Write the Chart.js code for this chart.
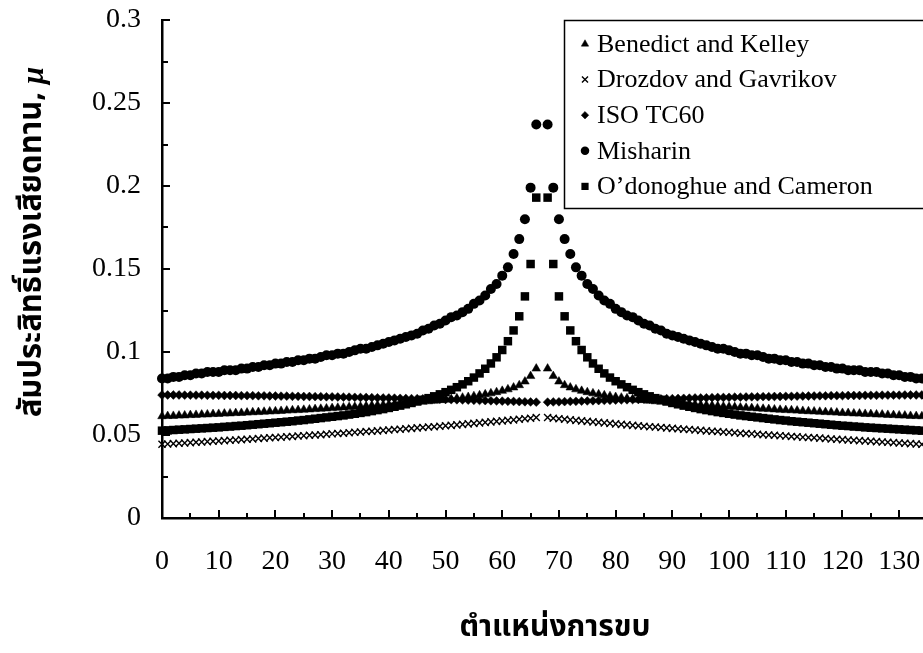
<!DOCTYPE html>
<html>
<head>
<meta charset="utf-8">
<script src="https://cdn.jsdelivr.net/npm/chart.js@4.4.0/dist/chart.umd.min.js"></script>
<style>
  html, body { margin: 0; padding: 0; background: #fff; }
  #wrap { width: 923px; height: 653px; position: relative; }
</style>
</head>
<body>
<div id="wrap"><canvas id="c" width="923" height="653"></canvas></div>
<script>
// Mesh positions along the line of action (67 = pitch point, no value there)
const positions = [
  0,1,2,3,4,5,6,7,8,9,10,11,12,13,14,15,16,17,18,19,
  20,21,22,23,24,25,26,27,28,29,30,31,32,33,34,35,36,37,38,39,
  40,41,42,43,44,45,46,47,48,49,50,51,52,53,54,55,56,57,58,59,
  60,61,62,63,64,65,66,67,68,69,70,71,72,73,74,75,76,77,78,79,
  80,81,82,83,84,85,86,87,88,89,90,91,92,93,94,95,96,97,98,99,
  100,101,102,103,104,105,106,107,108,109,110,111,112,113,114,115,116,117,118,119,
  120,121,122,123,124,125,126,127,128,129,130,131,132,133,134
];

const benedictKelley = [
  0.0613,0.0614,0.0615,0.0617,0.0618,0.0620,0.0621,0.0623,0.0624,0.0626,
  0.0627,0.0629,0.0630,0.0632,0.0633,0.0635,0.0637,0.0638,0.0640,0.0642,
  0.0643,0.0645,0.0647,0.0649,0.0650,0.0652,0.0654,0.0656,0.0658,0.0660,
  0.0662,0.0664,0.0666,0.0668,0.0670,0.0672,0.0674,0.0677,0.0679,0.0681,
  0.0684,0.0686,0.0689,0.0691,0.0694,0.0697,0.0700,0.0703,0.0706,0.0710,
  0.0713,0.0717,0.0721,0.0725,0.0729,0.0734,0.0739,0.0745,0.0751,0.0758,
  0.0766,0.0775,0.0786,0.0800,0.0822,0.0855,0.0900,
  null,
  0.0900,0.0855,0.0822,0.0800,0.0786,0.0775,0.0766,
  0.0758,0.0751,0.0745,0.0739,0.0734,0.0729,0.0725,0.0721,0.0717,0.0713,
  0.0710,0.0706,0.0703,0.0700,0.0697,0.0694,0.0691,0.0689,0.0686,0.0684,
  0.0681,0.0679,0.0677,0.0674,0.0672,0.0670,0.0668,0.0666,0.0664,0.0662,
  0.0660,0.0658,0.0656,0.0654,0.0652,0.0650,0.0649,0.0647,0.0645,0.0643,
  0.0642,0.0640,0.0638,0.0637,0.0635,0.0633,0.0632,0.0630,0.0629,0.0627,
  0.0626,0.0624,0.0623,0.0621,0.0620,0.0618,0.0617,0.0615,0.0614,0.0613
];

const drozdovGavrikov = [
  0.0444,0.0446,0.0448,0.0450,0.0452,0.0454,0.0456,0.0458,0.0460,0.0462,
  0.0464,0.0466,0.0468,0.0470,0.0472,0.0474,0.0476,0.0479,0.0481,0.0483,
  0.0485,0.0487,0.0489,0.0491,0.0494,0.0496,0.0498,0.0500,0.0502,0.0505,
  0.0507,0.0509,0.0511,0.0514,0.0516,0.0518,0.0521,0.0523,0.0525,0.0528,
  0.0530,0.0533,0.0535,0.0538,0.0540,0.0543,0.0545,0.0548,0.0550,0.0553,
  0.0556,0.0558,0.0561,0.0564,0.0567,0.0570,0.0573,0.0576,0.0579,0.0582,
  0.0585,0.0588,0.0591,0.0595,0.0598,0.0601,0.0605,
  null,
  0.0605,0.0601,0.0598,0.0595,0.0591,0.0588,0.0585,
  0.0582,0.0579,0.0576,0.0573,0.0570,0.0567,0.0564,0.0561,0.0558,0.0556,
  0.0553,0.0550,0.0548,0.0545,0.0543,0.0540,0.0538,0.0535,0.0533,0.0530,
  0.0528,0.0525,0.0523,0.0521,0.0518,0.0516,0.0514,0.0511,0.0509,0.0507,
  0.0505,0.0502,0.0500,0.0498,0.0496,0.0494,0.0491,0.0489,0.0487,0.0485,
  0.0483,0.0481,0.0479,0.0476,0.0474,0.0472,0.0470,0.0468,0.0466,0.0464,
  0.0462,0.0460,0.0458,0.0456,0.0454,0.0452,0.0450,0.0448,0.0446,0.0444
];

const isoTC60 = [
  0.0741,0.0741,0.0741,0.0741,0.0740,0.0740,0.0740,0.0740,0.0739,0.0739,
  0.0739,0.0738,0.0738,0.0738,0.0737,0.0737,0.0737,0.0736,0.0736,0.0735,
  0.0735,0.0734,0.0734,0.0733,0.0733,0.0732,0.0732,0.0731,0.0731,0.0730,
  0.0730,0.0729,0.0728,0.0728,0.0727,0.0726,0.0726,0.0725,0.0724,0.0723,
  0.0723,0.0722,0.0721,0.0720,0.0719,0.0719,0.0718,0.0717,0.0716,0.0715,
  0.0714,0.0713,0.0712,0.0711,0.0710,0.0709,0.0708,0.0707,0.0706,0.0705,
  0.0704,0.0703,0.0702,0.0701,0.0700,0.0699,0.0698,
  null,
  0.0698,0.0699,0.0700,0.0701,0.0702,0.0703,0.0704,
  0.0705,0.0706,0.0707,0.0708,0.0709,0.0710,0.0711,0.0712,0.0713,0.0714,
  0.0715,0.0716,0.0717,0.0718,0.0719,0.0719,0.0720,0.0721,0.0722,0.0723,
  0.0723,0.0724,0.0725,0.0726,0.0726,0.0727,0.0728,0.0728,0.0729,0.0730,
  0.0730,0.0731,0.0731,0.0732,0.0732,0.0733,0.0733,0.0734,0.0734,0.0735,
  0.0735,0.0736,0.0736,0.0737,0.0737,0.0737,0.0738,0.0738,0.0738,0.0739,
  0.0739,0.0739,0.0740,0.0740,0.0740,0.0740,0.0741,0.0741,0.0741,0.0741
];

const misharin = [
  0.084,0.084,0.085,0.085,0.086,0.086,0.087,0.087,0.088,0.088,
  0.088,0.089,0.089,0.089,0.090,0.090,0.091,0.091,0.092,0.092,
  0.093,0.093,0.094,0.094,0.095,0.095,0.096,0.096,0.097,0.098,
  0.098,0.099,0.099,0.100,0.101,0.102,0.102,0.103,0.104,0.105,
  0.106,0.107,0.108,0.109,0.110,0.111,0.113,0.114,0.116,0.117,
  0.119,0.121,0.122,0.124,0.126,0.129,0.131,0.134,0.138,0.141,
  0.146,0.151,0.159,0.168,0.180,0.199,0.237,
  null,
  0.237,0.199,0.180,0.168,0.159,0.151,0.146,0.141,0.138,0.134,
  0.131,0.129,0.126,0.124,0.122,0.121,0.119,0.117,0.116,0.114,
  0.113,0.111,0.110,0.109,0.108,0.107,0.106,0.105,0.104,0.103,
  0.102,0.102,0.101,0.100,0.099,0.099,0.098,0.098,0.097,0.096,
  0.096,0.095,0.095,0.094,0.094,0.093,0.093,0.092,0.092,0.091,
  0.091,0.090,0.090,0.089,0.089,0.089,0.088,0.088,0.088,0.087,
  0.087,0.086,0.086,0.085,0.085,0.084,0.084
];

const odonoghueCameron = [
  0.0526,0.0528,0.0530,0.0532,0.0534,0.0536,0.0538,0.0540,0.0542,0.0544,
  0.0546,0.0549,0.0551,0.0554,0.0556,0.0559,0.0562,0.0565,0.0568,0.0571,
  0.0574,0.0577,0.0580,0.0583,0.0587,0.0590,0.0594,0.0598,0.0602,0.0606,
  0.0610,0.0614,0.0618,0.0623,0.0628,0.0633,0.0638,0.0644,0.0650,0.0656,
  0.0663,0.0670,0.0677,0.0685,0.0693,0.0702,0.0712,0.0722,0.0733,0.0745,
  0.0758,0.0772,0.0788,0.0805,0.0824,0.0846,0.0871,0.0899,0.0931,0.0968,
  0.1012,0.1065,0.1130,0.1215,0.1335,0.1530,0.1930,
  null,
  0.1930,0.1530,0.1335,0.1215,0.1130,0.1065,0.1012,
  0.0968,0.0931,0.0899,0.0871,0.0846,0.0824,0.0805,0.0788,0.0772,0.0758,
  0.0745,0.0733,0.0722,0.0712,0.0702,0.0693,0.0685,0.0677,0.0670,0.0663,
  0.0656,0.0650,0.0644,0.0638,0.0633,0.0628,0.0623,0.0618,0.0614,0.0610,
  0.0606,0.0602,0.0598,0.0594,0.0590,0.0587,0.0583,0.0580,0.0577,0.0574,
  0.0571,0.0568,0.0565,0.0562,0.0559,0.0556,0.0554,0.0551,0.0549,0.0546,
  0.0544,0.0542,0.0540,0.0538,0.0536,0.0534,0.0532,0.0530,0.0528,0.0526
];

const seriesNames = [
  'Benedict and Kelley',
  'Drozdov and Gavrikov',
  'ISO TC60',
  'Misharin',
  'O\u2019donoghue and Cameron'
];

const xTickLabels = ['0','10','20','30','40','50','60','70','80','90','100','110','120','130'];
const yTickLabels = ['0','0.05','0.1','0.15','0.2','0.25','0.3'];

const xTitle = 'ตำแหน่งการขบ';
const yTitle = 'สัมประสิทธิ์แรงเสียดทาน, ';
const yTitleSymbol = 'μ';

const SERIF = '"Liberation Serif", "Times New Roman", serif';
const THAI = '"Noto Sans Thai", "Noto Sans", "DejaVu Sans", sans-serif';

function pointSet(label, data, style, radius, border) {
  return {
    label, data,
    showLine: false,
    pointStyle: style,
    pointRadius: radius,
    pointHoverRadius: radius,
    pointBorderWidth: border,
    backgroundColor: '#000',
    borderColor: '#000',
    clip: false
  };
}

// Short inward tick marks on both axes
const innerTicks = {
  id: 'innerTicks',
  afterDraw(chart) {
    const {ctx, scales: {x, y}} = chart;
    ctx.save();
    ctx.strokeStyle = '#000';
    ctx.lineWidth = 2;
    x.ticks.forEach(t => {
      if (t.value === 0 || t.value % 5 !== 0) return;
      const px = Math.round(x.getPixelForValue(t.value));
      const len = t.value % 10 === 0 ? 8 : 5;
      ctx.beginPath();
      ctx.moveTo(px, y.bottom);
      ctx.lineTo(px, y.bottom - len);
      ctx.stroke();
    });
    y.ticks.forEach(t => {
      const k = Math.round(t.value * 1000);
      if (k === 0) return;
      const py = Math.round(y.getPixelForValue(t.value));
      const len = k % 50 === 0 ? 8 : 6;
      ctx.beginPath();
      ctx.moveTo(x.left, py);
      ctx.lineTo(x.left + len, py);
      ctx.stroke();
    });
    ctx.restore();
  }
};

// Axis titles: Thai caption, the y caption ends with a bold-italic mu
const axisTitles = {
  id: 'axisTitles',
  afterDraw(chart) {
    const {ctx, chartArea} = chart;
    ctx.save();
    ctx.fillStyle = '#000';
    ctx.textBaseline = 'middle';
    // x title
    ctx.font = 'bold 30px ' + THAI;
    ctx.textAlign = 'center';
    ctx.fillText(xTitle, chartArea.left + 393, chartArea.bottom + 112);
    // y title, rotated
    const thaiFont = 'bold 31px ' + THAI;
    const muFont = 'italic bold 31px ' + SERIF;
    ctx.font = thaiFont;
    const w1 = ctx.measureText(yTitle).width;
    ctx.font = muFont;
    const w2 = ctx.measureText(yTitleSymbol).width;
    const total = w1 + w2;
    ctx.translate(35, chartArea.top + 222);
    ctx.rotate(-Math.PI / 2);
    ctx.textAlign = 'left';
    ctx.font = thaiFont;
    ctx.fillText(yTitle, -total / 2, 0);
    ctx.font = muFont;
    ctx.fillText(yTitleSymbol, -total / 2 + w1, 0);
    ctx.restore();
  }
};

// Boxed legend sitting in the upper right of the plot
const boxLegend = {
  id: 'boxLegend',
  afterDraw(chart) {
    const {ctx, chartArea} = chart;
    const left = chartArea.right - 359;
    const top = chartArea.top;
    const h = 188;
    ctx.save();
    ctx.fillStyle = '#fff';
    ctx.fillRect(left, top, 400, h);
    ctx.strokeStyle = '#000';
    ctx.lineWidth = 1.5;
    ctx.strokeRect(left + 0.5, top + 0.5, 400, h);
    ctx.font = '26px ' + SERIF;
    ctx.textBaseline = 'middle';
    ctx.textAlign = 'left';
    chart.data.datasets.forEach((ds, i) => {
      const cy = top + 24 + i * 35.6;
      const mx = left + 21;
      ctx.fillStyle = '#000';
      ctx.strokeStyle = '#000';
      ctx.lineWidth = ds.pointBorderWidth || 0.5;
      Chart.helpers.drawPoint(ctx, {
        pointStyle: ds.pointStyle,
        radius: ds.pointRadius * 0.85,
        rotation: 0,
        borderWidth: ds.pointBorderWidth
      }, mx, cy);
      ctx.fillStyle = '#000';
      ctx.fillText(ds.label, left + 33, cy + 1);
    });
    ctx.restore();
  }
};

new Chart(document.getElementById('c'), {
  type: 'line',
  data: {
    labels: positions,
    datasets: [
      pointSet(seriesNames[0], benedictKelley, 'triangle', 5, 0.5),
      pointSet(seriesNames[1], drozdovGavrikov, 'crossRot', 5, 1.4),
      pointSet(seriesNames[2], isoTC60, 'rectRot', 4.4, 0.5),
      pointSet(seriesNames[3], misharin, 'circle', 5, 0),
      pointSet(seriesNames[4], odonoghueCameron, 'rect', 6, 0)
    ]
  },
  options: {
    responsive: false,
    devicePixelRatio: 1,
    animation: false,
    events: [],
    layout: { autoPadding: false, padding: { top: 20, left: 0, right: 0, bottom: 0 } },
    plugins: {
      legend: { display: false },
      tooltip: { enabled: false }
    },
    scales: {
      x: {
        type: 'linear',
        min: 0,
        max: 134.2,
        grid: { display: false, drawTicks: false },
        border: { display: true, color: '#000', width: 2.5 },
        ticks: {
          stepSize: 5,
          includeBounds: false,
          autoSkip: false,
          maxRotation: 0,
          padding: 27,
          color: '#000',
          font: { family: SERIF, size: 28 },
          callback: v => (v % 10 === 0 ? xTickLabels[v / 10] : '')
        },
        title: { display: false },
        afterFit(s) { s.height = 135; s.paddingLeft = 0; s.paddingRight = 0; }
      },
      y: {
        min: 0,
        max: 0.3,
        grid: { display: false, drawTicks: false },
        border: { display: true, color: '#000', width: 2.5 },
        ticks: {
          stepSize: 0.025,
          autoSkip: false,
          padding: 21,
          color: '#000',
          font: { family: SERIF, size: 28 },
          callback: v => {
            const k = Math.round(v * 1000);
            return k % 50 === 0 ? yTickLabels[k / 50] : '';
          }
        },
        title: { display: false },
        afterFit(s) { s.width = 162; s.paddingTop = 0; s.paddingBottom = 0; }
      }
    }
  },
  plugins: [innerTicks, axisTitles, boxLegend]
});
</script>
</body>
</html>
